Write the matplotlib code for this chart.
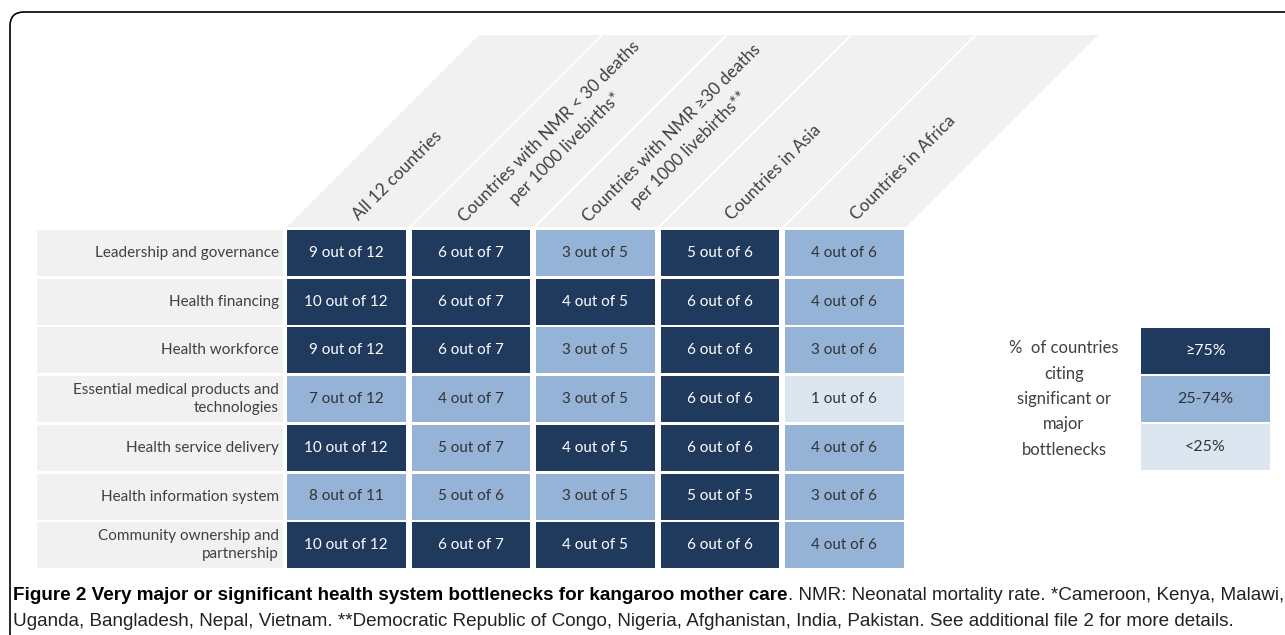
import matplotlib
matplotlib.use("Agg")
import matplotlib.pyplot as plt
from matplotlib.patches import Polygon, Rectangle, FancyBboxPatch

# ---- data ----
categories = [
    "Leadership and governance",
    "Health financing",
    "Health workforce",
    "Essential medical products and\ntechnologies",
    "Health service delivery",
    "Health information system",
    "Community ownership and\npartnership",
]
groups = [
    "All 12 countries",
    "Countries with NMR < 30 deaths\nper 1000 livebirths*",
    "Countries with NMR \u226530 deaths\nper 1000 livebirths**",
    "Countries in Asia",
    "Countries in Africa",
]
cited = [
    [9, 6, 3, 5, 4],
    [10, 6, 4, 6, 4],
    [9, 6, 3, 6, 3],
    [7, 4, 3, 6, 1],
    [10, 5, 4, 6, 4],
    [8, 5, 3, 5, 3],
    [10, 6, 4, 6, 4],
]
totals = [
    [12, 7, 5, 6, 6],
    [12, 7, 5, 6, 6],
    [12, 7, 5, 6, 6],
    [12, 7, 5, 6, 6],
    [12, 7, 5, 6, 6],
    [11, 6, 5, 5, 6],
    [12, 7, 5, 6, 6],
]
# shading as printed: 2 = >=75%, 1 = 25-74%, 0 = <25%
levels = [
    [2, 2, 1, 2, 1],
    [2, 2, 2, 2, 1],
    [2, 2, 1, 2, 1],
    [1, 1, 1, 2, 0],
    [2, 1, 2, 2, 1],
    [1, 1, 1, 2, 1],
    [2, 2, 2, 2, 1],
]
legend_labels = ["\u226575%", "25-74%", "<25%"]
legend_levels = [2, 1, 0]
legend_title = "%  of countries\nciting\nsignificant or\nmajor\nbottlenecks"
caption_bold = "Figure 2 Very major or significant health system bottlenecks for kangaroo mother care"
caption_rest = ". NMR: Neonatal mortality rate. *Cameroon, Kenya, Malawi,"
caption_line2 = ("Uganda, Bangladesh, Nepal, Vietnam. **Democratic Republic of Congo, Nigeria, "
                 "Afghanistan, India, Pakistan. See additional file 2 for more details.")

# ---- style ----
fills = {2: "#203a5e", 1: "#95b3d7", 0: "#dce6f1"}
inks = {2: "white", 1: "#333333", 0: "#333333"}
grey_bg = "#f1f1f1"
text_grey = "#404040"
body_font = ["Lato", "DejaVu Sans"]
cap_font = ["Liberation Sans", "DejaVu Sans"]

W, H = 1285, 635
fig = plt.figure(figsize=(W / 100, H / 100), dpi=100)
ax = fig.add_axes([0, 0, 1, 1])
ax.set_xlim(0, W)
ax.set_ylim(H, 0)
ax.axis("off")

# outer rounded frame
ax.add_patch(FancyBboxPatch((10, 12), 1320, 660, boxstyle="round,pad=0,rounding_size=14",
                            fc="white", ec="black", lw=1.2))

# table geometry
x0, pitch_x, cw = 287, 124.5, 118.5
y0, pitch_y, ch = 230, 48.7, 46
lab_left, lab_right = 37, 283
head_top, head_bot = 35, 227
slant = head_bot - head_top

for j, g in enumerate(groups):
    left = x0 + j * pitch_x
    ax.add_patch(Polygon([(left, head_bot), (left + cw + 3, head_bot),
                          (left + cw + 3 + slant, head_top), (left + slant, head_top)],
                         closed=True, fc=grey_bg, ec="none"))
    if "\n" not in g:
        ax.text(left + 68, 217, g, rotation=45, rotation_mode="anchor", ha="left",
                va="center", fontsize=12.3, color=text_grey, family=body_font)
    else:
        ax.text(left + 58, 228, g, rotation=45, rotation_mode="anchor", ha="left",
                va="center", multialignment="center", fontsize=12.3, color=text_grey,
                family=body_font, linespacing=1.6)

for i, cat in enumerate(categories):
    top = y0 + i * pitch_y
    ax.add_patch(Rectangle((lab_left, top), lab_right - lab_left, ch, fc=grey_bg, ec="none"))
    ax.text(lab_right - 4, top + ch / 2, cat, ha="right", va="center", fontsize=11,
            color=text_grey, family=body_font, linespacing=1.35)
    for j in range(len(groups)):
        left = x0 + j * pitch_x
        lv = levels[i][j]
        ax.add_patch(Rectangle((left, top), cw, ch, fc=fills[lv], ec="none"))
        ax.text(left + cw / 2, top + ch / 2, f"{cited[i][j]} out of {totals[i][j]}",
                ha="center", va="center", fontsize=11, color=inks[lv], family=body_font)

# legend
lg_left, lg_w, lg_top, lg_h, lg_pitch = 1141, 129, 328, 46, 48
for k, (lab, lv) in enumerate(zip(legend_labels, legend_levels)):
    top = lg_top + k * lg_pitch
    ax.add_patch(Rectangle((lg_left, top), lg_w, lg_h, fc=fills[lv], ec="none"))
    ax.text(lg_left + lg_w / 2, top + lg_h / 2, lab, ha="center", va="center", fontsize=11.5,
            color=inks[lv], family=body_font)
ax.text(1064, 399, legend_title, ha="center", va="center", multialignment="center",
        fontsize=12, color=text_grey, family=body_font, linespacing=1.72)

# caption: size chosen so that the first line spans the frame width
renderer = fig.canvas.get_renderer()
cap_size = 13.0
t1 = ax.text(13, 596, caption_bold, ha="left", va="center", fontsize=cap_size,
             fontweight="bold", color="black", family=cap_font)
t2 = ax.text(13, 596, caption_rest, ha="left", va="center", fontsize=cap_size,
             color="#222222", family=cap_font)
w_total = (t1.get_window_extent(renderer).width + t2.get_window_extent(renderer).width)
cap_size = cap_size * (1280 - 13) / w_total
t1.set_fontsize(cap_size)
t2.set_fontsize(cap_size)
t2.set_x(13 + t1.get_window_extent(renderer).width)
ax.text(13, 621, caption_line2, ha="left", va="center", fontsize=cap_size,
        color="#222222", family=cap_font)

fig.savefig("out.png", dpi=100)
